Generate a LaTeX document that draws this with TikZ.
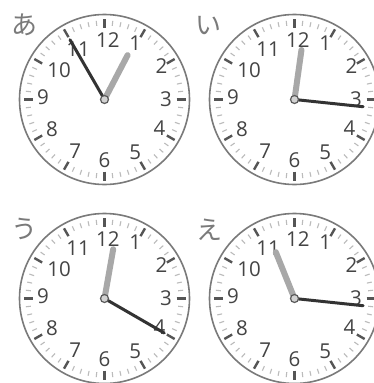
\documentclass[tikz,border=0pt]{standalone}
\usepackage{fontspec}
\newfontfamily\clocknumfont{Open Sans}
\newfontfamily\clockjpfont{Noto Sans CJK JP}
\definecolor{rimgray}{HTML}{7A7A7A}
\definecolor{tickdark}{HTML}{555555}
\definecolor{ticklight}{HTML}{BBBBBB}
\definecolor{numgray}{HTML}{444444}
\definecolor{kanagray}{HTML}{7A7A7A}
\definecolor{hourgray}{HTML}{A8A8A8}
\definecolor{mindark}{HTML}{333333}
\definecolor{hubfill}{HTML}{D2D2D2}
\definecolor{hubdraw}{HTML}{5A5A5A}
\tikzset{
  rim/.style={draw=rimgray, line width=1.6pt},
  majortick/.style={draw=tickdark, line width=2.4pt},
  minortick/.style={draw=ticklight, line width=1.1pt},
  numlabel/.style={font=\clocknumfont\fontsize{20.5}{20.5}\selectfont, text=numgray, inner sep=0pt},
  kana/.style={font=\clockjpfont\fontsize{26}{26}\selectfont, text=kanagray, inner sep=0pt},
  hourhand/.style={draw=hourgray, line width=6pt, line cap=round},
  minutehand/.style={draw=mindark, line width=3pt, line cap=round},
  hub/.style={circle, fill=hubfill, draw=hubdraw, line width=1.2pt, minimum size=8pt, inner sep=0pt},
}
% #1 name, #2 cx, #3 cy, #4 kana, #5 kx, #6 ky, #7 hour angle, #8 minute angle
\newcommand\drawclock[8]{%
  \node[kana] (#1k) at (#5,#6) {#4};
  \begin{scope}[shift={(#2,#3)}]
    \coordinate (#1c) at (0,0);
    \draw[rim] (#1c) circle[radius=85];
    \foreach \m in {0,...,59}{%
      \pgfmathtruncatemacro\rr{mod(\m,5)}%
      \ifnum\rr=0
        \draw[majortick] ({\m*6-90}:72) -- ({\m*6-90}:81);
      \else
        \draw[minortick] ({\m*6-90}:74) -- ({\m*6-90}:79);
      \fi
    }
    \foreach \n/\dx/\dy in {1/30.7/-56,2/57/-33,3/61.4/-0.5,4/55/29,5/30.7/52.5,6/0/61,7/-29.3/52,8/-52.6/30,9/-61.6/-2,10/-45.3/-29.5,11/-26.5/-50.5,12/3.4/-59.6}{%
      \node[numlabel] (#1n\n) at (\dx,\dy) {\n};
    }
    \coordinate (#1h) at ({#7-90}:50);
    \coordinate (#1m) at ({#8-90}:69);
    \draw[hourhand] (#1c) -- (#1h);
    \draw[minutehand] (#1c) -- (#1m);
    \node[hub] (#1hub) at (#1c) {};
  \end{scope}
}
\begin{document}
\begin{tikzpicture}[x=1pt,y=-1pt]
  \useasboundingbox (0,0) rectangle (374,383);
  \clip (0,0) rectangle (374,383);
  \fill[white] (0,0) rectangle (374,383);
  \drawclock{a}{104.5}{99.5}{あ}{25}{25}{27.5}{330}
  \drawclock{b}{294.5}{99.5}{い}{208}{26}{8}{96}
  \drawclock{c}{104.5}{298.5}{う}{24}{229}{10}{120}
  \drawclock{d}{294.5}{298.5}{え}{209}{230}{338}{96}
\end{tikzpicture}
\end{document}
